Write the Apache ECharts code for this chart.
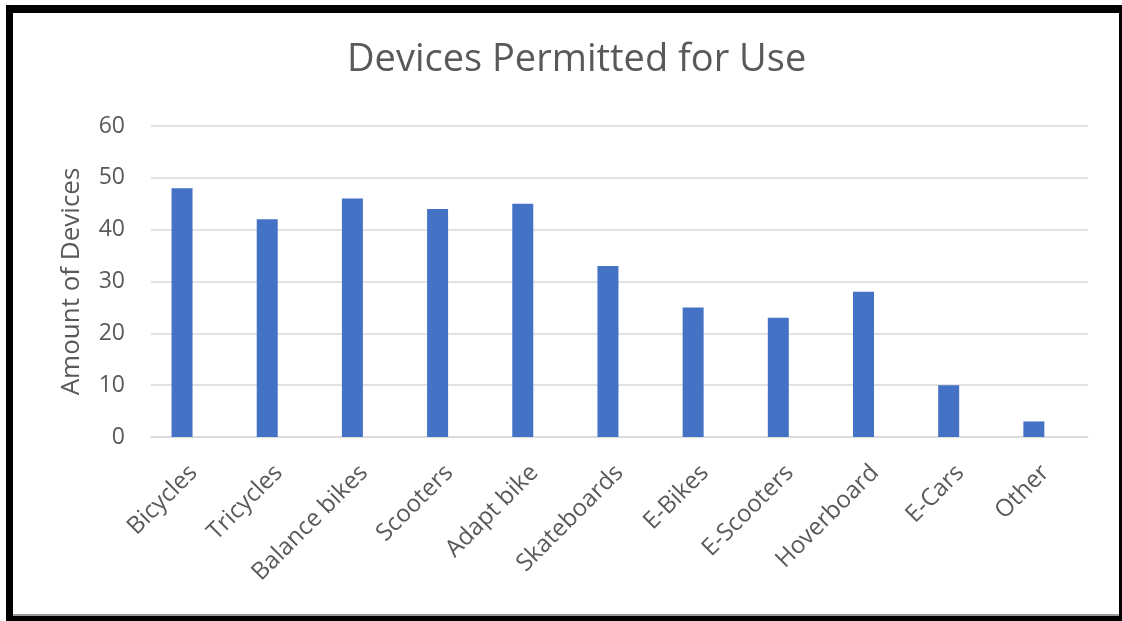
<!DOCTYPE html>
<html>
<head>
<meta charset="utf-8">
<script src="https://cdn.jsdelivr.net/npm/echarts@6/dist/echarts.min.js"></script>
<style>
  html, body { margin: 0; padding: 0; background: #ffffff; }
  #chart { position: absolute; left: 0; top: 0; width: 1122px; height: 621px; }
  .frame { position: absolute; background: #000; pointer-events: none; }
</style>
</head>
<body>
<div id="chart"></div>
<!-- heavy black frame around the chart -->
<div class="frame" style="left:6px; top:5px; width:1116px; height:8px;"></div>
<div class="frame" style="left:6px; top:5px; width:7px; height:616px;"></div>
<div class="frame" style="left:1119px; top:5px; width:3px; height:616px;"></div>
<div class="frame" style="left:6px; top:616px; width:1116px; height:5px;"></div>
<div class="frame" style="left:13px; top:614px; width:1106px; height:2px; background:#9a9a9a;"></div>
<script>
const categories = ['Bicycles', 'Tricycles', 'Balance bikes', 'Scooters', 'Adapt bike',
  'Skateboards', 'E-Bikes', 'E-Scooters', 'Hoverboard', 'E-Cars', 'Other'];
const deviceCounts = [48, 42, 46, 44, 45, 33, 25, 23, 28, 10, 3];
const yTicks = { min: 0, max: 60, interval: 10 };

const textGray = '#595959';
const chart = echarts.init(document.getElementById('chart'), null, { renderer: 'canvas' });
chart.setOption({
  animation: false,
  backgroundColor: '#ffffff',
  title: {
    text: 'Devices Permitted for Use',
    left: 342,
    top: 36,
    textStyle: { fontFamily: 'Open Sans', fontWeight: 'normal', fontSize: 38, color: textGray }
  },
  grid: { left: 151, right: 34, top: 126, bottom: 184, containLabel: false },
  xAxis: {
    type: 'category',
    data: categories,
    axisLine: { show: true, lineStyle: { color: '#d9d9d9', width: 1.5 } },
    axisTick: { show: false },
    axisLabel: {
      rotate: 45,
      interval: 0,
      margin: 32,
      color: textGray,
      fontFamily: 'Open Sans',
      fontSize: 24
    }
  },
  yAxis: {
    type: 'value',
    min: yTicks.min,
    max: yTicks.max,
    interval: yTicks.interval,
    name: 'Amount of Devices',
    nameLocation: 'middle',
    nameGap: 66,
    nameTextStyle: { color: textGray, fontFamily: 'Open Sans', fontSize: 26 },
    axisLine: { show: false },
    axisTick: { show: false },
    axisLabel: { color: textGray, fontFamily: 'Open Sans', fontSize: 23, margin: 26 },
    splitLine: { lineStyle: { color: '#d9d9d9', width: 1.5 } }
  },
  series: [
    {
      name: 'Devices',
      type: 'bar',
      data: deviceCounts,
      barWidth: 21,
      barGap: '10%',
      itemStyle: { color: '#4472C4' }
    },
    {
      // second (empty) series slot keeps the bars left of each category centre
      name: 'Reserved',
      type: 'bar',
      data: [],
      barWidth: 21,
      itemStyle: { color: '#ED7D31' }
    }
  ]
});
</script>
</body>
</html>
